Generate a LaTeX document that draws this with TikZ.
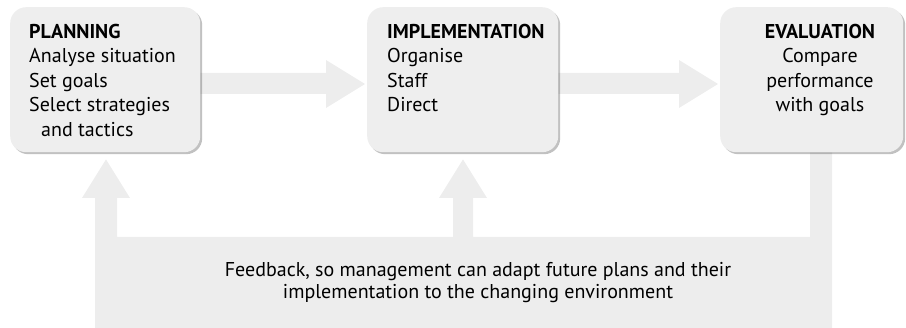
\documentclass[tikz,border=0pt]{standalone}
\usepackage{fontspec}
\setmainfont{PT Sans}
\usetikzlibrary{shadows,backgrounds,calc}
\definecolor{boxgray}{HTML}{EEEEEE}
\definecolor{flowgray}{HTML}{EDEDED}
\begin{document}
\begin{tikzpicture}[x=1pt,y=-1pt,
  stagebox/.style={draw=none, fill=boxgray, rounded corners=16pt,
    minimum width=#1, minimum height=145pt, anchor=north west, inner sep=0pt,
    drop shadow={shadow xshift=2pt, shadow yshift=-2pt, opacity=0.35, fill=black!70}},
  stagetext/.style={inner sep=0pt, font=\fontsize{20}{24.5}\selectfont},
  notetext/.style={inner sep=0pt, font=\fontsize{20}{22.5}\selectfont, align=center, anchor=north},
  flow/.style={fill=flowgray, draw=none}]
\useasboundingbox (0,0) rectangle (906,328);

% the three stages
\node[stagebox=190pt] (plan) at (10,7) {};
\node[stagebox=191pt] (impl) at (367,7) {};
\node[stagebox=183pt] (eval) at (720,7) {};

\node[stagetext, anchor=north west, align=left] (plantext) at (29,24)
  {\textbf{PLANNING}\\Analyse situation\\Set goals\\Select strategies\\\hspace*{12pt}and tactics};
\node[stagetext, anchor=north west, align=left] (impltext) at (387,24)
  {\textbf{IMPLEMENTATION}\\Organise\\Staff\\Direct};
\node[stagetext, anchor=north, align=center] (evaltext) at (820,24)
  {\textbf{EVALUATION}\\Compare\\performance\\with goals};

\node[notetext] (note) at (478,262)
  {Feedback, so management can adapt future plans and their\\implementation to the changing environment};

\begin{scope}[on background layer]
  % planning -> implementation
  \fill[flow] (plan.east |- 0,73) -- (326,73) -- (326,60)
    -- ($(impl.west |- 0,84)+(-2,0)$) -- (326,108) -- (326,94)
    -- (plan.east |- 0,94) -- cycle;
  % implementation -> evaluation
  \fill[flow] (impl.east |- 0,73) -- (679,73) -- (679,60)
    -- ($(eval.west |- 0,84)+(-2,0)$) -- (679,108) -- (679,94)
    -- (impl.east |- 0,94) -- cycle;
  % feedback loop from evaluation back to planning and implementation
  \fill[flow] (810,0 |- eval.south) -- (832,0 |- eval.south) -- (832,328)
    -- (95,328) -- (95,198) -- (82,198) -- ($(plan.south -| 106,0)+(0,7)$)
    -- (130,198) -- (117,198) -- (117,237) -- (453,237) -- (453,198)
    -- (439,198) -- ($(impl.south -| 463,0)+(0,7)$) -- (487,198)
    -- (473,198) -- (473,237) -- (810,237) -- cycle;
\end{scope}
\end{tikzpicture}
\end{document}
